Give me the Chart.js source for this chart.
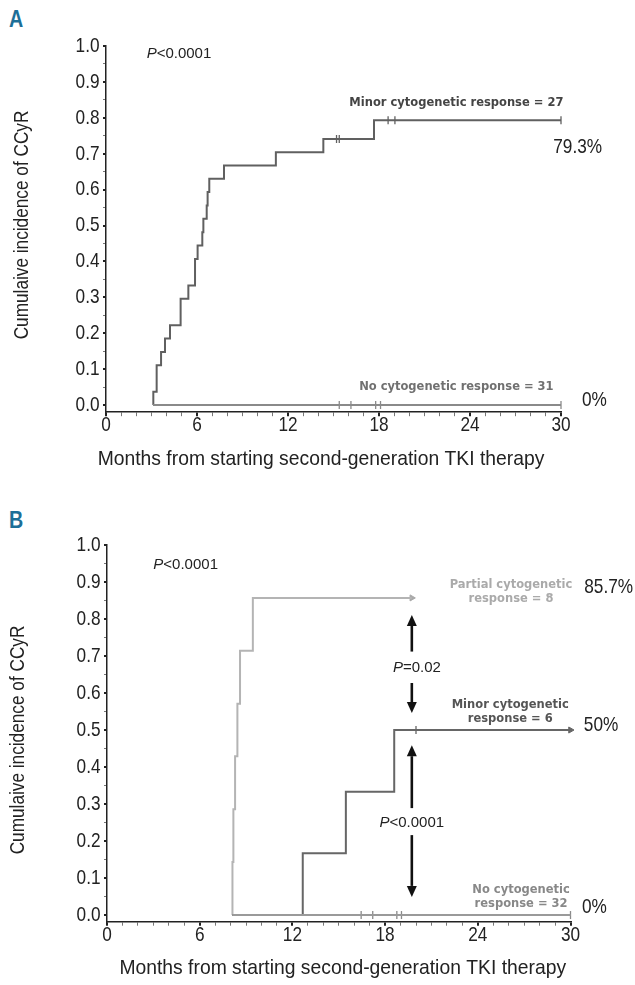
<!DOCTYPE html>
<html>
<head>
<meta charset="utf-8">
<script src="https://cdn.jsdelivr.net/npm/chart.js@4.4.1/dist/chart.umd.min.js"></script>
<style>
  body { margin: 0; background: #fff; width: 635px; height: 985px; position: relative; overflow: hidden; }
  canvas { position: absolute; left: 0; }
  .tag { position: absolute; left: 9px; font: bold 24px/24px "Liberation Sans", Arial, sans-serif; color: #1d6f98; transform: scaleX(0.82); transform-origin: left top; }
</style>
</head>
<body>
<div class="tag" style="top:7px">A</div>
<canvas id="chartA" width="635" height="490" style="top:0"></canvas>
<div class="tag" style="top:508px">B</div>
<canvas id="chartB" width="635" height="485" style="top:500px"></canvas>
<script>
//#region data
const xTitle = 'Months from starting second-generation TKI therapy'
const yTitle = 'Cumulaive incidence of CCyR'
const xTickLabels = ['0', '6', '12', '18', '24', '30']
const yTickLabels = ['0.0', '0.1', '0.2', '0.3', '0.4', '0.5', '0.6', '0.7', '0.8', '0.9', '1.0']

// panel A
const aMinorMonths = [3.1, 3.12, 3.34, 3.63, 3.89, 4.22, 4.92, 5.43, 5.87, 6.04, 6.35, 6.42, 6.64, 6.7, 6.81, 7.78, 11.2, 14.33, 17.67, 30]
const aMinorValues = [0, 0.037, 0.111, 0.148, 0.185, 0.222, 0.296, 0.333, 0.407, 0.444, 0.481, 0.519, 0.556, 0.593, 0.63, 0.667, 0.704, 0.741, 0.793, 0.793]
const aMinorCensored = [15.2, 15.38, 18.6, 19.05, 30]
const aNoneMonths = [3.1, 30]
const aNoneValues = [0, 0]
const aNoneCensored = [15.38, 16.15, 17.78, 18.1, 30]

// panel B
const bPartialMonths = [8.1, 8.12, 8.18, 8.29, 8.44, 8.61, 9.44, 19.73]
const bPartialValues = [0, 0.143, 0.286, 0.429, 0.571, 0.714, 0.857, 0.857]
const bMinorMonths = [8.1, 12.67, 15.46, 18.59, 30]
const bMinorValues = [0, 0.167, 0.333, 0.5, 0.5]
const bMinorCensored = [20]
const bNoneMonths = [8.1, 30]
const bNoneValues = [0, 0]
const bNoneCensored = [16.45, 17.2, 18.76, 19.06, 30]
//#endregion

const sans = '"Liberation Sans", Arial, sans-serif'
const labelFont = '21px ' + sans

let xTickValues = []
for (let i = 0; i <= 30; i++) xTickValues.push(i)
let yTickValues = []
for (let i = 0; i <= 20; i++) yTickValues.push(i / 20)

function toPoints(months, values) {
    return months.map((m, i) => ({ x: m, y: values[i] }))
}

function valueAt(months, values, t) {
    let v = values[0]
    months.forEach((m, i) => { if (m <= t) v = values[i] })
    return v
}

function stepLine(months, values, color) {
    return {
        data: toPoints(months, values),
        showLine: true, stepped: true,
        borderColor: color, borderWidth: 2,
        pointRadius: 0, clip: false
    }
}

function censorMarks(times, months, values, color) {
    return {
        data: times.map(t => ({ x: t, y: valueAt(months, values, t) })),
        showLine: false,
        pointStyle: 'line', rotation: 90, pointRadius: 4,
        borderColor: color, pointBorderWidth: 1.3, clip: false
    }
}

function endArrow(months, values, color) {
    const last = months.length - 1
    return {
        data: [{ x: months[last], y: values[last] }],
        showLine: false,
        pointStyle: 'triangle', rotation: 90, pointRadius: 3.5,
        backgroundColor: color, borderColor: color, pointBorderWidth: 1, clip: false
    }
}

// the original type is a condensed grotesque, so text is squeezed sideways
function squeezed(ctx, text, x, y, k, rot) {
    ctx.save()
    ctx.translate(x, y)
    if (rot) ctx.rotate(rot)
    ctx.scale(k, 1)
    ctx.fillText(text, 0, 0)
    ctx.restore()
}

// tick labels and axis titles
const axisTextPlugin = {
    id: 'axisText',
    afterDraw(chart, args, o) {
        const ctx = chart.ctx
        const xs = chart.scales.x, ys = chart.scales.y
        const area = chart.chartArea
        ctx.save()
        ctx.fillStyle = '#222'
        ctx.font = labelFont
        ctx.textBaseline = 'middle'
        ctx.textAlign = 'center'
        xs.ticks.forEach((t, i) => {
            if (i % 6 === 0) squeezed(ctx, xTickLabels[i / 6], xs.getPixelForValue(t.value), xs.top + 13.5, 0.82)
        })
        ctx.textAlign = 'right'
        ys.ticks.forEach((t, i) => {
            if (i % 2 === 0) squeezed(ctx, yTickLabels[i / 2], ys.right - 6.5, ys.getPixelForValue(t.value), 0.82)
        })
        ctx.textAlign = 'center'
        squeezed(ctx, xTitle, (area.left + area.right) / 2 + o.xTitleShift, xs.top + o.xTitleDrop, 0.92)
        squeezed(ctx, yTitle, o.yTitleX, o.yTitleY, 0.82, -Math.PI / 2)
        ctx.restore()
    }
}

// texts and arrows placed in data units
const annotPlugin = {
    id: 'annot',
    afterDatasetsDraw(chart, args, opts) {
        const ctx = chart.ctx
        const xs = chart.scales.x, ys = chart.scales.y
        ctx.save()
        ;(opts.arrows || []).forEach(a => {
            const x = xs.getPixelForValue(a.x)
            const y0 = ys.getPixelForValue(a.from)
            const y1 = ys.getPixelForValue(a.to)
            const dir = y1 < y0 ? -1 : 1
            const head = 11
            ctx.strokeStyle = '#111'
            ctx.fillStyle = '#111'
            ctx.lineWidth = 2.6
            ctx.beginPath()
            ctx.moveTo(x, y0)
            ctx.lineTo(x, y1 - dir * head)
            ctx.stroke()
            ctx.beginPath()
            ctx.moveTo(x, y1)
            ctx.lineTo(x - 5, y1 - dir * head)
            ctx.lineTo(x + 5, y1 - dir * head)
            ctx.closePath()
            ctx.fill()
        })
        ;(opts.texts || []).forEach(t => {
            const x = xs.getPixelForValue(t.x)
            const y = ys.getPixelForValue(t.y)
            ctx.fillStyle = t.color
            ctx.textBaseline = 'middle'
            if (t.italicP) {
                ctx.font = 'italic ' + t.font
                const wP = ctx.measureText('P').width
                ctx.font = t.font
                const wR = ctx.measureText(t.text.slice(1)).width
                let left = t.align === 'center' ? x - (wP + wR) / 2 : x
                ctx.textAlign = 'left'
                ctx.font = 'italic ' + t.font
                ctx.fillText('P', left, y)
                ctx.font = t.font
                ctx.fillText(t.text.slice(1), left + wP, y)
            } else {
                ctx.font = t.font
                ctx.textAlign = t.align
                squeezed(ctx, t.text, x, y, t.squeeze || 1)
            }
        })
        ctx.restore()
    }
}

function makeChart(id, datasets, o) {
    return new Chart(document.getElementById(id), {
        type: 'scatter',
        data: { datasets: datasets },
        plugins: [annotPlugin, axisTextPlugin],
        options: {
            responsive: false,
            animation: false,
            layout: { padding: { top: o.top, right: o.right, left: 0, bottom: 0 } },
            plugins: {
                legend: { display: false },
                tooltip: { enabled: false },
                annot: { texts: o.texts, arrows: o.arrows },
                axisText: o.axisText
            },
            scales: {
                x: {
                    type: 'linear', min: 0, max: 30,
                    afterBuildTicks: s => { s.ticks = xTickValues.map(v => ({ value: v })) },
                    afterFit: s => { s.height = o.xHeight },
                    ticks: { display: false, autoSkip: false },
                    grid: {
                        drawOnChartArea: false, tickLength: 4,
                        color: c => c.index % 6 === 0 ? '#222' : '#777',
                        lineWidth: c => c.index % 6 === 0 ? 2 : 1
                    },
                    border: { color: '#222', width: 1.5 }
                },
                y: {
                    type: 'linear', min: o.yMin, max: 1,
                    afterBuildTicks: s => { s.ticks = yTickValues.map(v => ({ value: v })) },
                    afterFit: s => { s.width = o.yWidth },
                    ticks: { display: false, autoSkip: false },
                    grid: {
                        drawOnChartArea: false, tickLength: 3,
                        color: c => c.index % 2 === 0 ? '#222' : '#777',
                        lineWidth: c => c.index % 2 === 0 ? 2 : 1
                    },
                    border: { color: '#222', width: 1.5 }
                }
            }
        }
    })
}

const plainFont = '15px ' + sans
const boldFont = 'bold 11.5px "DejaVu Sans", sans-serif'

makeChart('chartA', [
    stepLine(aNoneMonths, aNoneValues, '#8a8a8a'),
    censorMarks(aNoneCensored, aNoneMonths, aNoneValues, '#8a8a8a'),
    stepLine(aMinorMonths, aMinorValues, '#606060'),
    censorMarks(aMinorCensored, aMinorMonths, aMinorValues, '#606060')
], {
    top: 46, right: 74, xHeight: 77.8, yWidth: 106, yMin: -0.02,
    axisText: { xTitleShift: -12.5, xTitleDrop: 47, yTitleX: 22, yTitleY: 225 },
    texts: [
        { x: 2.68, y: 0.978, text: 'P<0.0001', italicP: true, font: plainFont, color: '#222', align: 'left' },
        { x: 23.1, y: 0.842, text: 'Minor cytogenetic response = 27', font: boldFont, color: '#444', align: 'center' },
        { x: 23.1, y: 0.051, text: 'No cytogenetic response = 31', font: boldFont, color: '#707070', align: 'center' },
        { x: 31.1, y: 0.717, text: '79.3%', font: labelFont, squeeze: 0.82, color: '#222', align: 'center' },
        { x: 32.2, y: 0.014, text: '0%', font: labelFont, squeeze: 0.82, color: '#222', align: 'center' }
    ]
})

makeChart('chartB', [
    stepLine(bNoneMonths, bNoneValues, '#9a9a9a'),
    censorMarks(bNoneCensored, bNoneMonths, bNoneValues, '#8a8a8a'),
    stepLine(bMinorMonths, bMinorValues, '#666666'),
    censorMarks(bMinorCensored, bMinorMonths, bMinorValues, '#666666'),
    endArrow(bMinorMonths, bMinorValues, '#666666'),
    stepLine(bPartialMonths, bPartialValues, '#b4b4b4'),
    endArrow(bPartialMonths, bPartialValues, '#a8a8a8')
], {
    top: 45, right: 64.5, xHeight: 63.3, yWidth: 107, yMin: -0.018,
    axisText: { xTitleShift: 4, xTitleDrop: 47, yTitleX: 18, yTitleY: 240 },
    texts: [
        { x: 3.0, y: 0.946, text: 'P<0.0001', italicP: true, font: plainFont, color: '#222', align: 'left' },
        { x: 26.15, y: 0.893, text: 'Partial cytogenetic', font: boldFont, color: '#aaaaaa', align: 'center' },
        { x: 26.15, y: 0.853, text: 'response = 8', font: boldFont, color: '#aaaaaa', align: 'center' },
        { x: 26.1, y: 0.568, text: 'Minor cytogenetic', font: boldFont, color: '#555', align: 'center' },
        { x: 26.1, y: 0.531, text: 'response = 6', font: boldFont, color: '#555', align: 'center' },
        { x: 26.8, y: 0.068, text: 'No cytogenetic', font: boldFont, color: '#888', align: 'center' },
        { x: 26.8, y: 0.031, text: 'response = 32', font: boldFont, color: '#888', align: 'center' },
        { x: 32.47, y: 0.885, text: '85.7%', font: labelFont, squeeze: 0.82, color: '#222', align: 'center' },
        { x: 31.98, y: 0.514, text: '50%', font: labelFont, squeeze: 0.82, color: '#222', align: 'center' },
        { x: 31.55, y: 0.02, text: '0%', font: labelFont, squeeze: 0.82, color: '#222', align: 'center' },
        { x: 20.06, y: 0.667, text: 'P=0.02', italicP: true, font: plainFont, color: '#222', align: 'center' },
        { x: 19.73, y: 0.25, text: 'P<0.0001', italicP: true, font: plainFont, color: '#222', align: 'center' }
    ],
    arrows: [
        { x: 19.73, from: 0.712, to: 0.811 },
        { x: 19.73, from: 0.627, to: 0.546 },
        { x: 19.73, from: 0.289, to: 0.459 },
        { x: 19.73, from: 0.216, to: 0.049 }
    ]
})
</script>
</body>
</html>
